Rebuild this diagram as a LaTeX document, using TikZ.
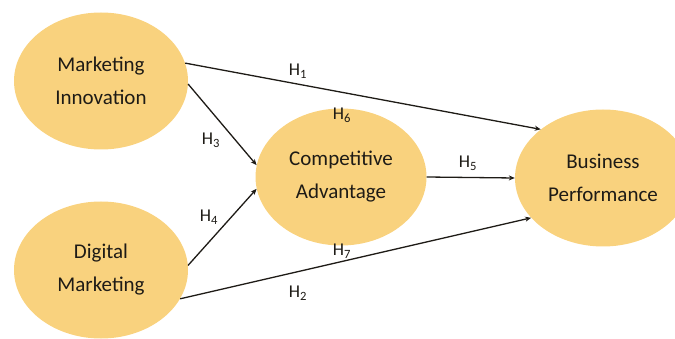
\documentclass[tikz,border=0pt]{standalone}
\usepackage{fontspec}
\setmainfont{Carlito}
\usetikzlibrary{arrows.meta,shapes.geometric}
\definecolor{ellfill}{RGB}{249,210,126}
\definecolor{txt}{RGB}{30,27,22}
\tikzset{
  construct/.style={ellipse, fill=ellfill, draw=none, minimum width=174pt, minimum height=137pt,
    align=center, font=\fontsize{21}{33}\selectfont, text=txt, inner sep=0pt},
  path/.style={draw=txt, line width=1.3pt, -{Stealth[length=6pt,width=5pt]}},
  hyp/.style={font=\fontsize{18}{20}\selectfont, text=txt, inner sep=0pt}
}
\begin{document}
\begin{tikzpicture}[x=1pt,y=-1pt]
\useasboundingbox (0,0) rectangle (675,339);
\clip (0,0) rectangle (675,339);
\node[construct] (MI) at (101,81) {Marketing\\Innovation};
\node[construct] (DM) at (101,270) {Digital\\Marketing};
\node[construct, minimum width=171pt] (CA) at (341,177) {Competitive\\Advantage};
\node[construct, minimum width=176pt] (BP) at (603,178) {Business\\Performance};
\draw[path] (MI.12) -- (BP.142);
\draw[path] (MI.-2) -- (CA.172);
\draw[path] (DM.3) -- (CA.188);
\draw[path] (DM.-20) -- (BP.209);
\draw[path] (CA.0) -- (BP.180);
\node[hyp] (h1) at (298,71) {H\textsubscript{1}};
\node[hyp] (h3) at (211,140) {H\textsubscript{3}};
\node[hyp] (h6) at (342,115) {H\textsubscript{6}};
\node[hyp] (h5) at (468,163) {H\textsubscript{5}};
\node[hyp] (h4) at (209,217) {H\textsubscript{4}};
\node[hyp] (h7) at (342,251) {H\textsubscript{7}};
\node[hyp] (h2) at (298,293) {H\textsubscript{2}};
\end{tikzpicture}
\end{document}
